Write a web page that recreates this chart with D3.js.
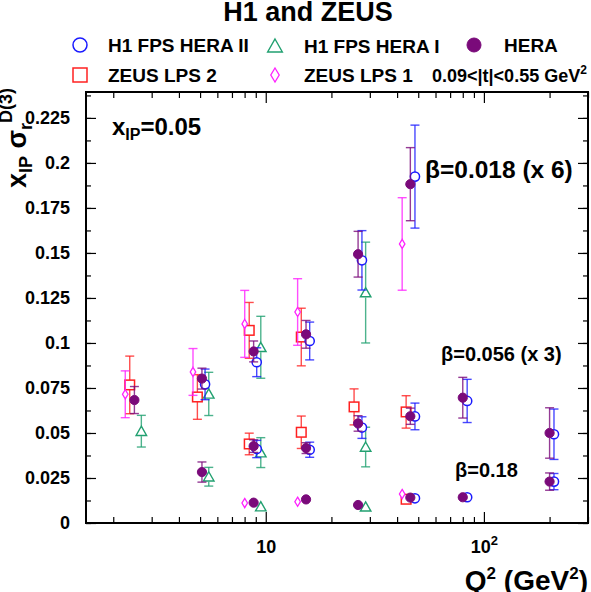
<!DOCTYPE html>
<html>
<head>
<meta charset="utf-8">
<script src="https://cdn.jsdelivr.net/npm/d3@7"></script>
<style>
body { margin: 0; background: #fff; }
svg { font-family: "Liberation Sans", Arial, sans-serif; font-weight: bold; }
</style>
</head>
<body>
<div id="chart"></div>
<script>
// HERA combined (filled purple circles)
var heraQ2  = [2.5, 5.1, 8.8, 15.3, 26.5, 46, 5.1, 8.8, 15.3, 26.5, 46, 80, 200, 8.8, 15.3, 26.5, 46, 80, 200];
var heraVal = [0.0683, 0.0802, 0.0953, 0.1048, 0.1493, 0.1882, 0.0283, 0.0427, 0.0416, 0.0553, 0.0593, 0.0696, 0.0500, 0.0113, 0.0131, 0.0100, 0.0141, 0.0143, 0.0230];
var heraErr = [0.0075, 0.0058, 0.0058, 0.0077, 0.0127, 0.0203, 0.0056, 0.0035, 0.0030, 0.0043, 0.0045, 0.0113, 0.0140, 0.0010, 0.0022, 0.0015, 0.0012, 0.0010, 0.0048];

// H1 FPS HERA II (open blue circles)
var h1f2Q2  = [5.27, 9.09, 15.9, 27.6, 48.3, 9.09, 15.9, 27.6, 48.3, 83.8, 209.5, 48.3, 83.8, 209.5];
var h1f2Val = [0.0770, 0.0893, 0.1011, 0.1459, 0.1924, 0.0411, 0.0407, 0.0530, 0.0592, 0.0678, 0.0493, 0.0137, 0.0143, 0.0230];
var h1f2Err = [0.0085, 0.0080, 0.0105, 0.0165, 0.0286, 0.0048, 0.0042, 0.0060, 0.0074, 0.0120, 0.0140, 0.0010, 0.0010, 0.0045];

// H1 FPS HERA I (open green triangles)
var h1f1Q2  = [2.69, 5.48, 9.49, 28.7, 5.48, 9.49, 28.7, 9.49, 28.7];
var h1f1Val = [0.0510, 0.0717, 0.0976, 0.1280, 0.0257, 0.0391, 0.0422, 0.0091, 0.0090];
var h1f1Err = [0.0088, 0.0120, 0.0172, 0.0280, 0.0052, 0.0083, 0.0110, 0.0010, 0.0010];

// ZEUS LPS 2 (open red squares)
var lps2Q2  = [2.38, 4.86, 8.40, 14.55, 8.40, 14.55, 25.4, 44.0, 44.0];
var lps2Val = [0.0767, 0.0700, 0.1070, 0.1033, 0.0439, 0.0504, 0.0645, 0.0617, 0.0132];
var lps2Err = [0.0160, 0.0124, 0.0155, 0.0160, 0.0060, 0.0090, 0.0100, 0.0090, 0.0020];

// ZEUS LPS 1 (open magenta diamonds)
var lps1Q2  = [2.27, 4.64, 8.01, 14.0, 42.2, 8.01, 14.0, 42.2];
var lps1Val = [0.0715, 0.0839, 0.1106, 0.1172, 0.1550, 0.0111, 0.0118, 0.0161];
var lps1Err = [0.0130, 0.0130, 0.0186, 0.0185, 0.0257, 0.0010, 0.0010, 0.0025];

var yTicks = [0, 0.025, 0.05, 0.075, 0.1, 0.125, 0.15, 0.175, 0.2, 0.225];
var yTickLabels = ["0", "0.025", "0.05", "0.075", "0.1", "0.125", "0.15", "0.175", "0.2", "0.225"];
var xMajor = [10, 100];
var xMinor = [2, 3, 4, 5, 6, 7, 8, 9, 20, 30, 40, 50, 60, 70, 80, 90, 200, 300];

var binLabels = ["\u03b2=0.018 (x 6)", "\u03b2=0.056 (x 3)", "\u03b2=0.18"];

var W = 591, H = 592;
var pL = 86, pR = 588, pT = 92, pB = 523;

var svg = d3.select("#chart").append("svg").attr("width", W).attr("height", H);

var x = d3.scaleLog().domain([1.5, 300]).range([pL, pR]);
var y = d3.scaleLinear().domain([0, 0.2394]).range([pB, pT]);

// ticks
function noDomain(g){ g.select(".domain").remove(); }
var yMinor = d3.range(0, 0.24, 0.0125);

svg.append("g").attr("transform", "translate(0," + pB + ")")
	.call(d3.axisBottom(x).tickValues(xMinor).tickSize(-6).tickFormat("")).call(noDomain);
svg.append("g").attr("transform", "translate(0," + pB + ")")
	.call(d3.axisBottom(x).tickValues(xMajor).tickSize(-11).tickFormat(function(d){ return "10"; }))
	.call(noDomain)
	.call(function(g){
		g.selectAll(".tick text").attr("font-size", 18).attr("font-family", null).attr("fill", "#000").attr("dy", 0).attr("y", 30)
			.each(function(d){
				if (d === 100) d3.select(this).append("tspan").attr("dy", -8).attr("font-size", 13).text("2");
			});
	});
svg.append("g").attr("transform", "translate(0," + pT + ")")
	.call(d3.axisTop(x).tickValues(xMinor).tickSize(-6).tickFormat("")).call(noDomain);
svg.append("g").attr("transform", "translate(0," + pT + ")")
	.call(d3.axisTop(x).tickValues(xMajor).tickSize(-11).tickFormat("")).call(noDomain);

svg.append("g").attr("transform", "translate(" + pL + ",0)")
	.call(d3.axisLeft(y).tickValues(yMinor).tickSize(-5).tickFormat("")).call(noDomain);
svg.append("g").attr("transform", "translate(" + pL + ",0)")
	.call(d3.axisLeft(y).tickValues(yTicks).tickSize(-10).tickPadding(16)
		.tickFormat(function(d, i){ return yTickLabels[i]; }))
	.call(noDomain)
	.call(function(g){
		g.selectAll(".tick text").attr("font-size", 18).attr("font-family", null).attr("fill", "#000");
	});
svg.append("g").attr("transform", "translate(" + pR + ",0)")
	.call(d3.axisRight(y).tickValues(yMinor).tickSize(-5).tickFormat("")).call(noDomain);
svg.append("g").attr("transform", "translate(" + pR + ",0)")
	.call(d3.axisRight(y).tickValues(yTicks).tickSize(-10).tickFormat("")).call(noDomain);

svg.selectAll(".tick line").attr("stroke", "#000").attr("stroke-width", 1.2);

svg.append("rect").attr("x", pL).attr("y", pT).attr("width", pR - pL).attr("height", pB - pT)
	.attr("fill", "none").attr("stroke", "#000").attr("stroke-width", 2);

// markers
var markers = {
	circle: function(g, c, r){ return g.append("circle").attr("r", r).attr("fill", "#fff").attr("stroke", c).attr("stroke-width", 1.5); },
	dot: function(g, c, r){ return g.append("circle").attr("r", r).attr("fill", c).attr("stroke", c); },
	square: function(g, c, r){ return g.append("rect").attr("x", -r).attr("y", -r).attr("width", 2 * r).attr("height", 2 * r).attr("fill", "#fff").attr("stroke", c).attr("stroke-width", 1.5); },
	diamond: function(g, c, r){ return g.append("path").attr("d", "M0," + (-r) + "L" + (r * 0.6) + ",0L0," + r + "L" + (-r * 0.6) + ",0Z").attr("fill", "#fff").attr("stroke", c).attr("stroke-width", 1.3); },
	triangle: function(g, c, r){ return g.append("path").attr("d", "M0," + (-r) + "L" + (r * 1.05) + "," + (r * 0.85) + "L" + (-r * 1.05) + "," + (r * 0.85) + "Z").attr("fill", "#fff").attr("stroke", c).attr("stroke-width", 1.4); }
};

function drawSeries(q2, val, err, shape, color, r){
	var g = svg.append("g");
	q2.forEach(function(q, i){
		var px = x(q), py = y(val[i]);
		var yt = y(val[i] + err[i]), yb = y(val[i] - err[i]);
		var eb = g.append("g").attr("stroke", color).attr("stroke-width", 1.4).attr("stroke-opacity", 0.8);
		if (py - yt > r) {
			eb.append("line").attr("x1", px).attr("x2", px).attr("y1", yt).attr("y2", py - r);
			eb.append("line").attr("x1", px - 4.5).attr("x2", px + 4.5).attr("y1", yt).attr("y2", yt);
		}
		if (yb - py > r) {
			eb.append("line").attr("x1", px).attr("x2", px).attr("y1", py + r).attr("y2", yb);
			eb.append("line").attr("x1", px - 4.5).attr("x2", px + 4.5).attr("y1", yb).attr("y2", yb);
		}
		var m = g.append("g").attr("transform", "translate(" + px + "," + py + ")");
		markers[shape](m, color, r);
	});
}

var cBlue = "#1a1aff", cGreen = "#21a070", cPurple = "#7a0a7a", cRed = "#ff2020", cMag = "#ff20ff";

drawSeries(lps2Q2, lps2Val, lps2Err, "square", cRed, 4.8);
drawSeries(lps1Q2, lps1Val, lps1Err, "diamond", cMag, 4.6);
drawSeries(h1f1Q2, h1f1Val, h1f1Err, "triangle", cGreen, 5);
drawSeries(h1f2Q2, h1f2Val, h1f2Err, "circle", cBlue, 4.6);
drawSeries(heraQ2, heraVal, heraErr, "dot", cPurple, 4.6);

// title
svg.append("text").attr("x", 308).attr("y", 21).attr("text-anchor", "middle").attr("font-size", 27).text("H1 and ZEUS");

// legend
var legend = [
	{ shape: "circle", color: cBlue, label: "H1 FPS HERA II", mx: 80, my: 45, tx: 108 },
	{ shape: "triangle", color: cGreen, label: "H1 FPS HERA I", mx: 275, my: 46, tx: 304 },
	{ shape: "dot", color: cPurple, label: "HERA", mx: 474, my: 45, tx: 504 },
	{ shape: "square", color: cRed, label: "ZEUS LPS 2", mx: 80, my: 75, tx: 108 },
	{ shape: "diamond", color: cMag, label: "ZEUS LPS 1", mx: 275, my: 75, tx: 304 }
];
legend.forEach(function(d){
	var m = svg.append("g").attr("transform", "translate(" + d.mx + "," + d.my + ")");
	markers[d.shape](m, d.color, 7);
	svg.append("text").attr("x", d.tx).attr("y", d.my + 7).attr("font-size", 19).text(d.label);
});
var tl = svg.append("text").attr("x", 432).attr("y", 82).attr("font-size", 18);
tl.append("tspan").text("0.09<|t|<0.55 GeV");
tl.append("tspan").attr("dy", -8).attr("font-size", 12).text("2");

// x_IP label
var xl = svg.append("text").attr("x", 112).attr("y", 135).attr("font-size", 24);
xl.append("tspan").text("x");
xl.append("tspan").attr("dy", 5).attr("font-size", 16).text("IP");
xl.append("tspan").attr("dy", -5).text("=0.05");

// beta bin labels
var binPos = [[425, 178, 24.5], [441, 361, 20], [455, 477, 20]];
binLabels.forEach(function(t, i){
	svg.append("text").attr("x", binPos[i][0]).attr("y", binPos[i][1]).attr("font-size", binPos[i][2]).text(t);
});

// axis titles
var xt = svg.append("text").attr("x", 588).attr("y", 590).attr("text-anchor", "end").attr("font-size", 28);
xt.append("tspan").text("Q");
xt.append("tspan").attr("dy", -11).attr("font-size", 17).text("2");
xt.append("tspan").attr("dy", 11).text(" (GeV");
xt.append("tspan").attr("dy", -11).attr("font-size", 17).text("2");
xt.append("tspan").attr("dy", 11).text(")");

var yt = svg.append("text").attr("transform", "translate(26,88) rotate(-90)").attr("text-anchor", "end").attr("font-size", 27);
yt.append("tspan").text("x");
yt.append("tspan").attr("dy", 6).attr("font-size", 18).text("IP");
yt.append("tspan").attr("dy", -6).text(" \u03c3");
yt.append("tspan").attr("dy", 6).attr("font-size", 18).text("r");
yt.append("tspan").attr("dy", -20).attr("font-size", 18).text("D(3)");
</script>
</body>
</html>
